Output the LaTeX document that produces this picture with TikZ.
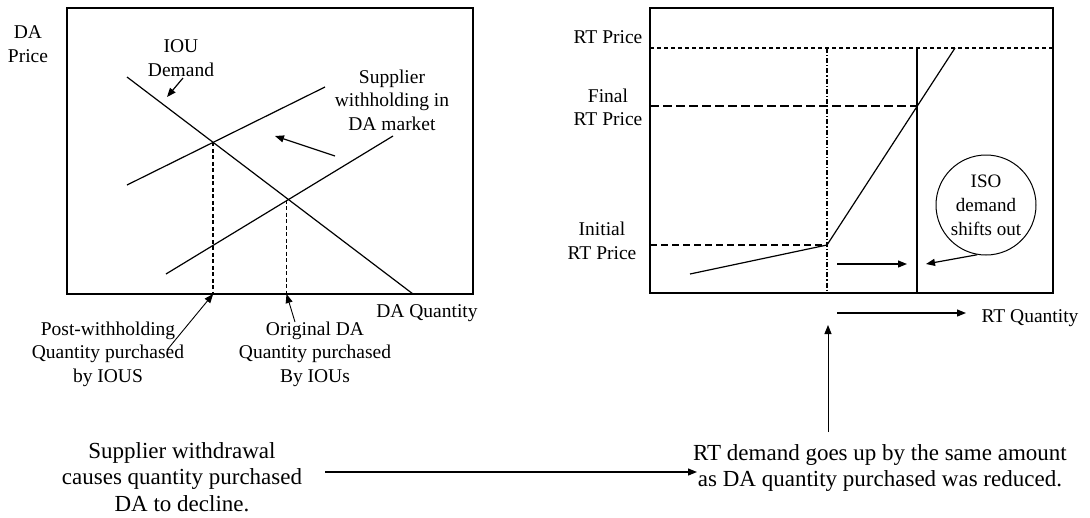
\documentclass[tikz,border=0pt]{standalone}
\usepackage{fontspec}
\setmainfont{Liberation Serif}
\usetikzlibrary{arrows.meta}
\begin{document}
\begin{tikzpicture}[x=1pt,y=-1pt,
  lbl/.style={font=\fontsize{19.5}{23.5}\selectfont, align=center, inner sep=0pt},
  isolbl/.style={font=\fontsize{19}{24}\selectfont, align=center, inner sep=0pt},
  big/.style={font=\fontsize{23}{26.5}\selectfont, align=center, inner sep=0pt},
  frame/.style={line width=1.5pt},
  curve/.style={line width=1.2pt},
  arr/.style={line width=1.2pt, -{Triangle[length=9pt,width=7pt]}},
  thinarr/.style={line width=0.9pt, -{Triangle[length=9pt,width=7pt]}},
  qdash/.style={line width=1.5pt, dash pattern=on 4pt off 2.5pt},
  shortdash/.style={line width=1.3pt, dash pattern=on 4pt off 3pt},
  longdash/.style={line width=1.3pt, dash pattern=on 9pt off 4pt},
  middash/.style={line width=1.1pt, dash pattern=on 7pt off 4pt},
  dashdot/.style={line width=1.2pt, dash pattern=on 5pt off 2pt on 1.2pt off 2pt}
]
\useasboundingbox (0,0) rectangle (1090,517);

% ---------------- Left chart ----------------
\coordinate (LA) at (67,8);
\coordinate (LB) at (473,294);
\draw[frame] (LA) rectangle (LB);

\coordinate (d1) at (127,77);
\coordinate (d2) at (413,294);
\coordinate (s1a) at (127,185);
\coordinate (s1b) at (325,87);
\coordinate (s2a) at (166,274);
\coordinate (s2b) at (393,136);
\draw[curve] (d1) -- (d2);
\draw[curve] (s1a) -- (s1b);
\draw[curve] (s2a) -- (s2b);

\coordinate (e1) at (intersection of d1--d2 and s1a--s1b);
\coordinate (e2) at (intersection of d1--d2 and s2a--s2b);
\coordinate (e1b) at (e1 |- LB);
\coordinate (e2b) at ([xshift=-2pt]e2 |- LB);
\draw[qdash] (e1) -- (e1b);
\draw[qdash] ([xshift=-2pt]e2) -- (e2b);

\node[lbl] (daprice) at (28,44) {DA\\Price};
\node[lbl] (ioudem) at (181,58) {IOU\\Demand};
\node[lbl] (supw) at (392,100) {Supplier\\withholding in\\DA market};
\node[lbl] (daq) at (427,313) {DA Quantity};
\node[lbl] (postw) at (108,354) {Post-withholding\\Quantity purchased\\by IOUS};
\node[lbl] (origda) at (315,354) {Original DA\\Quantity purchased\\By IOUs};

\coordinate (demTail) at (183,78);
\coordinate (demTip) at (167,97);
\draw[arr] (demTail) -- (demTip);
\coordinate (wTail) at (335,156);
\coordinate (wTip) at (275,136);
\draw[arr] (wTail) -- (wTip);
\coordinate (pTail) at (167,350);
\draw[thinarr] (pTail) -- (e1b);
\coordinate (oTail) at (295,322);
\draw[thinarr] (oTail) -- (e2b);

% ---------------- Right chart ----------------
\coordinate (RA) at (650,8);
\coordinate (RB) at (1053,293);
\draw[frame] (RA) rectangle (RB);

\coordinate (yP) at (650,48);
\coordinate (yPr) at (1053,48);
\coordinate (yF) at (650,106);
\coordinate (yI) at (650,245);
\coordinate (k0) at (690,274);
\coordinate (k1) at (827,245);
\coordinate (k2) at (955,48);
\coordinate (vA) at (827,48);
\coordinate (vAb) at (827,293);
\coordinate (vB) at (917,48);
\coordinate (vBb) at (917,293);
\coordinate (fB) at (917,106);

\draw[shortdash] (yP) -- (yPr);
\draw[longdash] (yF) -- (fB);
\draw[middash] (yI) -- (k1);
\draw[dashdot] (vA) -- (vAb);
\draw[curve] (vB) -- (vBb);
\draw[curve] (k0) -- (k1) -- (k2);

\node[lbl] (rtp) at (608,37) {RT Price};
\node[lbl] (frtp) at (608,107.5) {Final\\RT Price};
\node[lbl] (irtp) at (602,241) {Initial\\RT Price};
\node[isolbl, circle, draw, line width=1pt, minimum size=100pt] (iso) at (986,205) {ISO\\demand\\shifts out};
\node[lbl] (rtq) at (1030,318) {RT Quantity};

\coordinate (inTail) at (837,264);
\coordinate (inTip) at (907,264);
\draw[arr] (inTail) -- (inTip);
\coordinate (isoTip) at (926,264);
\draw[arr] (iso.260) -- (isoTip);
\coordinate (qTail) at (837,313);
\coordinate (qTip) at (966,313);
\draw[arr] (qTail) -- (qTip);

% ---------------- Bottom ----------------
\node[big] (botl) at (182,477) {Supplier withdrawal\\causes quantity purchased\\DA to decline.};
\node[big] (botr) at (880,468) {RT demand goes up by the same amount\\as DA quantity purchased was reduced.};

\coordinate (upTail) at (828,432);
\coordinate (upTip) at (828,325);
\draw[thinarr] (upTail) -- (upTip);
\coordinate (lTail) at (325,472);
\coordinate (lTip) at (697,472);
\draw[arr] (lTail) -- (lTip);
\end{tikzpicture}
\end{document}
